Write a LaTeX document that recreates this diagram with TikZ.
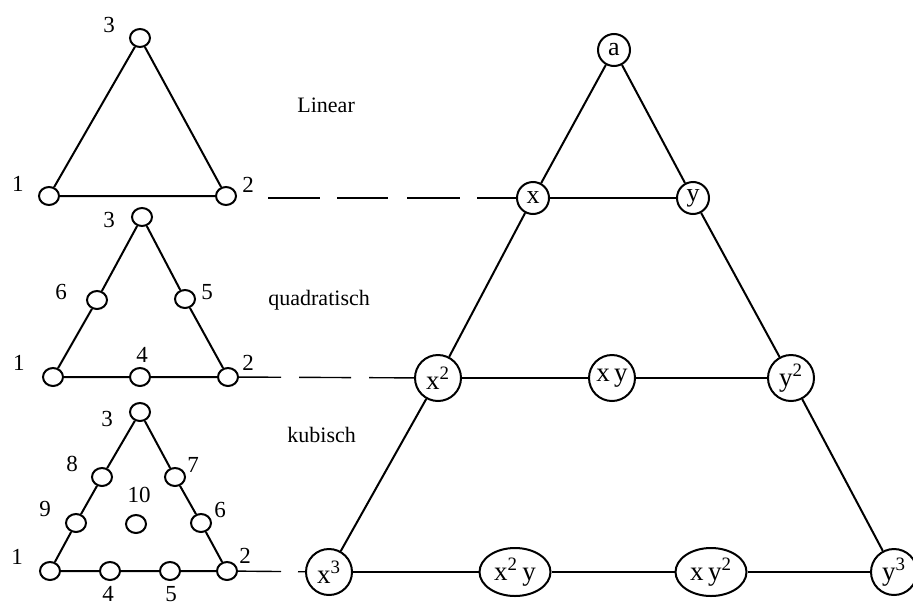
\documentclass[tikz,border=0pt]{standalone}
\usepackage{fontspec}
\setmainfont{Liberation Serif}
\usetikzlibrary{shapes.geometric}
\begin{document}
\begin{tikzpicture}[x=0.5pt,y=-0.5pt,
  edge/.style={line width=1pt},
  dashline/.style={line width=0.7pt},
  vtx/.style={draw,line width=1pt,ellipse,minimum width=10pt,minimum height=9pt,inner sep=0pt,fill=white},
  num/.style={font=\fontsize{11.5}{11.5}\selectfont,inner sep=0pt},
  title/.style={font=\fontsize{11}{11}\selectfont,inner sep=0pt,anchor=west},
  monoA/.style={draw,line width=1pt,circle,minimum size=16pt,inner sep=0pt,fill=white,font=\fontsize{13}{13}\selectfont},
  monoB/.style={draw,line width=1pt,circle,minimum size=23pt,inner sep=0pt,fill=white,font=\fontsize{13.5}{13.5}\selectfont},
  monoE/.style={draw,line width=1pt,ellipse,minimum width=35.5pt,minimum height=24pt,inner sep=0pt,fill=white,font=\fontsize{13.5}{13.5}\selectfont}
]
\useasboundingbox (0,0) rectangle (913,605);

% ---- linear element ----
\node[vtx] (l1) at (49,196) {};
\node[vtx] (l2) at (226,196) {};
\node[vtx] (l3) at (140,38) {};
\draw[edge] (l1) -- (l2) -- (l3) -- (l1);
\node[num] (nl3) at (109,25) {3};
\node[num] (nl1) at (18,184) {1};
\node[num] (nl2) at (248,185) {2};

% ---- quadratic element ----
\node[vtx] (q1) at (53,377) {};
\node[vtx] (q4) at (140,377) {};
\node[vtx] (q2) at (228,377) {};
\node[vtx] (q5) at (185,299) {};
\node[vtx] (q3) at (142,217) {};
\node[vtx] (q6) at (97,300) {};
\draw[edge] (q1) -- (q4) -- (q2) -- (q5) -- (q3) -- (q6) -- (q1);
\node[num] (nq3) at (109,220) {3};
\node[num] (nq6) at (61,292) {6};
\node[num] (nq5) at (207,292) {5};
\node[num] (nq1) at (19,363) {1};
\node[num] (nq4) at (142,355) {4};
\node[num] (nq2) at (248,363) {2};

% ---- cubic element ----
\node[vtx] (c1) at (50,571) {};
\node[vtx] (c4) at (110,571) {};
\node[vtx] (c5) at (170,571) {};
\node[vtx] (c2) at (227,571) {};
\node[vtx] (c6) at (201,523) {};
\node[vtx] (c7) at (175,477) {};
\node[vtx] (c3) at (140,412) {};
\node[vtx] (c8) at (102,477) {};
\node[vtx] (c9) at (76,523) {};
\node[vtx] (c10) at (136,524) {};
\draw[edge] (c1) -- (c4) -- (c5) -- (c2) -- (c6) -- (c7) -- (c3) -- (c8) -- (c9) -- (c1);
\node[num] (nc3) at (107,419) {3};
\node[num] (nc8) at (72,464) {8};
\node[num] (nc7) at (193,465) {7};
\node[num] (nc9) at (45,509) {9};
\node[num] (nc10) at (139,495) {10};
\node[num] (nc6) at (220,510) {6};
\node[num] (nc1) at (17,557) {1};
\node[num] (nc4) at (108,594) {4};
\node[num] (nc5) at (171,594) {5};
\node[num] (nc2) at (245,556) {2};

% ---- element names ----
\node[title] (tlin) at (297,105) {Linear};
\node[title] (tquad) at (268,300) {quadratisch};
\node[title] (tkub) at (287,435) {kubisch};

% ---- Pascal triangle of monomials ----
\node[monoA] (a) at (614,50) {a};
\node[monoA] (x) at (533,198) {x};
\node[monoA] (y) at (693,198) {y};
\node[monoB] (x2) at (438,378) {x\textsuperscript{2}};
\node[monoB] (xy) at (612,378) {x\,y};
\node[monoB] (y2) at (791,378) {y\textsuperscript{2}};
\node[monoB] (x3) at (329,572) {x\textsuperscript{3}};
\node[monoE] (x2y) at (515,572) {x\textsuperscript{2}\,y};
\node[monoE] (xy2) at (711,572) {x\,y\textsuperscript{2}};
\node[monoB] (y3) at (894,572) {y\textsuperscript{3}};

\draw[edge] (a) -- (x);
\draw[edge] (a) -- (y);
\draw[edge] (x) -- (y);
\draw[edge] (x) -- (x2);
\draw[edge] (y) -- (y2);
\draw[edge] (x2) -- (xy) -- (y2);
\draw[edge] (x2) -- (x3);
\draw[edge] (y2) -- (y3);
\draw[edge] (x3) -- (x2y) -- (xy2) -- (y3);

% ---- links from the elements to their rows ----
\coordinate (d1) at (268,198);
\draw[dashline, dash pattern=on 26pt off 8.5pt on 25.5pt off 9.5pt on 26.5pt off 8.5pt on 40pt] (d1) -- (x);
\draw[dashline, dash pattern=on 21pt off 9pt on 26pt off 9pt on 40pt] (q2) -- (x2);
\draw[dashline, dash pattern=on 21.5pt off 8.5pt on 20pt] (c2) -- (x3);
\end{tikzpicture}
\end{document}
